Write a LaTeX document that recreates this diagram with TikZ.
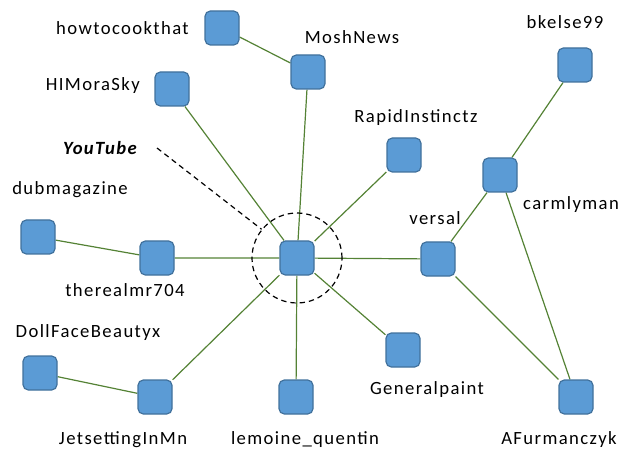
\documentclass[tikz,border=0pt]{standalone}
\usepackage{fontspec}
\setmainfont{Carlito}[LetterSpace=7.5]
\usetikzlibrary{backgrounds}
\definecolor{boxfill}{HTML}{5B9BD5}
\definecolor{boxline}{HTML}{41719C}
\definecolor{linkgreen}{HTML}{548235}
\tikzset{user/.style={rectangle,draw=boxline,fill=boxfill,line width=0.9pt,rounded corners=4pt,minimum size=25.5pt,inner sep=0pt},
	 uname/.style={inner sep=0pt,font=\fontsize{14}{16}\selectfont},
	 link/.style={draw=linkgreen,line width=0.9pt}
	 }

\begin{document}
\begin{tikzpicture}[x=0.75pt,y=-0.75pt] % YouTube network around one user
	\useasboundingbox (0,0) rectangle (633,453);
	\node[user] (hub) at (297,258) {};
	\node[user] (howto) at (222,28) {};
	\node[user] (mosh) at (308,72) {};
	\node[user] (himora) at (172,89) {};
	\node[user] (rapid) at (404,155) {};
	\node[user] (bkelse) at (575,65) {};
	\node[user] (carm) at (500,175) {};
	\node[user] (versal) at (438,259) {};
	\node[user] (dub) at (38,237) {};
	\node[user] (thereal) at (157,258) {};
	\node[user] (dollface) at (40,373) {};
	\node[user] (jetset) at (155,397) {};
	\node[user] (lemoine) at (296,397) {};
	\node[user] (general) at (403,350) {};
	\node[user] (afurm) at (576,397) {};

	\node[uname,anchor=east] (howto-t) at (189,28) {howtocookthat};
	\node[uname] (mosh-t) at (352,37) {MoshNews};
	\node[uname,anchor=east] (himora-t) at (140,86) {HIMoraSky};
	\node[uname] (rapid-t) at (416,118) {RapidInstinctz};
	\node[uname] (bkelse-t) at (565,22) {bkelse99};
	\node[uname] (carm-t) at (571,205) {carmlyman};
	\node[uname] (versal-t) at (435,218) {versal};
	\node[uname] (dub-t) at (70,190) {dubmagazine};
	\node[uname] (thereal-t) at (125,290) {therealmr704};
	\node[uname] (dollface-t) at (88,333) {DollFaceBeautyx};
	\node[uname] (jetset-t) at (123,440) {JetsettingInMn};
	\node[uname] (lemoine-t) at (305,440) {lemoine\_quentin};
	\node[uname] (general-t) at (427,390) {Generalpaint};
	\node[uname] (afurm-t) at (559,440) {AFurmanczyk};
	\node[uname,font=\fontsize{14}{16}\selectfont\bfseries\itshape] (yt) at (100,148) {YouTube};

	\node[circle,draw,dashed,line width=0.9pt,dash pattern=on 4pt off 3pt,minimum size=67.5pt,inner sep=0pt] (ring) at (hub) {};
	\coordinate (yt-end) at (157,148);
	\draw[dashed,line width=0.9pt,dash pattern=on 4pt off 3pt] (yt-end) -- (ring.141.8);

	\begin{scope}[on background layer]
	\draw[link] (howto) -- (mosh) -- (hub); \draw[link] (himora) -- (hub);
	\draw[link] (rapid) -- (hub); \draw[link] (dub) -- (thereal) -- (hub);
	\draw[link] (dollface) -- (jetset) -- (hub); \draw[link] (lemoine) -- (hub);
	\draw[link] (general) -- (hub); \draw[link] (hub) -- (versal) -- (carm) -- (bkelse);
	\draw[link] (versal) -- (afurm) -- (carm);
	\end{scope}
\end{tikzpicture}
\end{document}
